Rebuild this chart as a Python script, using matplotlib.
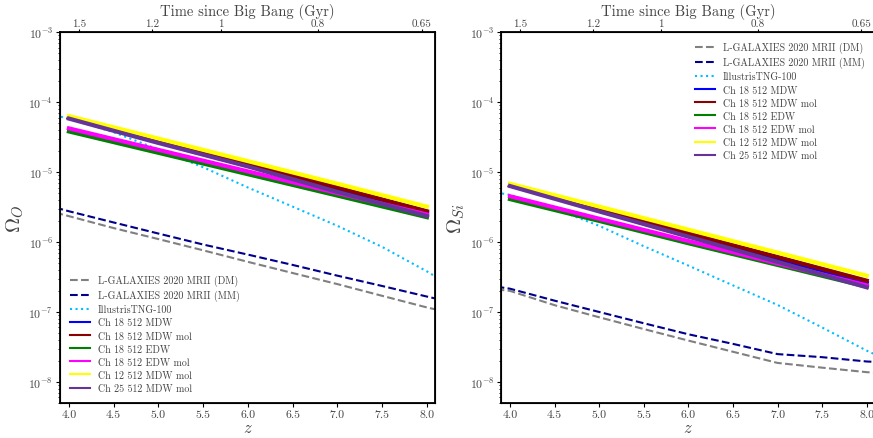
import numpy as np
import matplotlib
matplotlib.use('Agg')
import matplotlib.pyplot as plt

plt.rcParams['font.family'] = 'serif'
plt.rcParams['font.serif'] = ['cmr10']
plt.rcParams['mathtext.fontset'] = 'cm'
plt.rcParams['axes.formatter.use_mathtext'] = True
plt.rcParams['axes.unicode_minus'] = False
plt.rcParams['text.color'] = '#444444'
plt.rcParams['axes.labelcolor'] = '#444444'
plt.rcParams['xtick.labelcolor'] = '#444444'
plt.rcParams['ytick.labelcolor'] = '#444444'

# redshift grids
z_sim = [4.0, 5.0, 6.0, 7.0, 8.0]
z_lgal = [3.85, 4.0, 4.5, 5.0, 5.5, 6.0, 6.5, 7.0, 7.5, 8.0, 8.15]
z_tng = [3.85, 4.0, 4.5, 5.0, 5.5, 6.0, 6.5, 7.0, 7.5, 8.0, 8.15]

# top axis: time since big bang
age_labels = ['1.5', '1.2', '1', '0.8', '0.65']
age_z = [4.11, 4.93, 5.695, 6.78, 7.94]

# ---- Omega_O ----
O_lgal_dm = [2.63e-6, 2.34e-6, 1.58e-6, 1.1e-6, 7.6e-7, 5.2e-7, 3.6e-7, 2.5e-7, 1.7e-7, 1.16e-7, 1.05e-7]
O_lgal_mm = [3.1e-6, 2.75e-6, 1.9e-6, 1.32e-6, 9.2e-7, 6.6e-7, 4.7e-7, 3.3e-7, 2.35e-7, 1.66e-7, 1.5e-7]
O_tng = [6.4e-5, 5.8e-5, 3.7e-5, 2.1e-5, 1.17e-5, 6.0e-6, 3.2e-6, 1.7e-6, 8.5e-7, 3.8e-7, 2.9e-7]
O_sims = {
    'Ch 18 512 MDW':     [6.0e-5, 2.7e-5, 1.26e-5, 5.7e-6, 2.6e-6],
    'Ch 18 512 MDW mol': [6.0e-5, 2.8e-5, 1.29e-5, 6.0e-6, 2.75e-6],
    'Ch 18 512 EDW':     [3.8e-5, 1.88e-5, 9.3e-6, 4.6e-6, 2.26e-6],
    'Ch 18 512 EDW mol': [4.2e-5, 2.07e-5, 1.02e-5, 5.0e-6, 2.47e-6],
    'Ch 12 512 MDW mol': [6.3e-5, 3.0e-5, 1.43e-5, 6.8e-6, 3.2e-6],
    'Ch 25 512 MDW mol': [5.8e-5, 2.6e-5, 1.2e-5, 5.2e-6, 2.35e-6],
}

# ---- Omega_Si ----
Si_lgal_dm = [2.1e-7, 2.0e-7, 1.25e-7, 8.4e-8, 5.7e-8, 3.9e-8, 2.7e-8, 1.87e-8, 1.6e-8, 1.38e-8, 1.34e-8]
Si_lgal_mm = [2.3e-7, 2.15e-7, 1.45e-7, 1.0e-7, 6.9e-8, 4.8e-8, 3.5e-8, 2.5e-8, 2.26e-8, 1.96e-8, 1.92e-8]
Si_tng = [5.1e-6, 4.7e-6, 3.0e-6, 1.7e-6, 8.7e-7, 4.6e-7, 2.4e-7, 1.26e-7, 6.0e-8, 2.8e-8, 2.3e-8]
Si_sims = {
    'Ch 18 512 MDW':     [6.45e-6, 2.9e-6, 1.29e-6, 5.75e-7, 2.6e-7],
    'Ch 18 512 MDW mol': [6.45e-6, 2.9e-6, 1.33e-6, 6.1e-7, 2.8e-7],
    'Ch 18 512 EDW':     [4.1e-6, 2.0e-6, 9.6e-7, 4.7e-7, 2.3e-7],
    'Ch 18 512 EDW mol': [4.5e-6, 2.15e-6, 1.03e-6, 4.95e-7, 2.4e-7],
    'Ch 12 512 MDW mol': [6.8e-6, 3.2e-6, 1.5e-6, 7.05e-7, 3.3e-7],
    'Ch 25 512 MDW mol': [6.3e-6, 2.73e-6, 1.19e-6, 5.2e-7, 2.25e-7],
}

sim_colors = ['blue', 'darkred', 'green', 'magenta', 'yellow', 'rebeccapurple']

fig = plt.figure(figsize=(8.73, 4.39), dpi=100)
ax1 = fig.add_axes([0.0687, 0.0797, 0.4296, 0.845])
ax2 = fig.add_axes([0.574, 0.0797, 0.428, 0.845])

def draw(ax, dm, mm, tng, sims, ylab, xmax, legloc):
    ax.plot(z_lgal, dm, '--', color='grey', lw=1.5, label='L-GALAXIES 2020 MRII (DM)')
    ax.plot(z_lgal, mm, '--', color='darkblue', lw=1.5, label='L-GALAXIES 2020 MRII (MM)')
    ax.plot(z_tng, tng, ':', color='deepskyblue', lw=1.5, label='IllustrisTNG-100')
    for (name, vals), c in zip(sims.items(), sim_colors):
        ax.plot(z_sim, vals, '-', color=c, lw=3, label=name)
    ax.set_yscale('log')
    ax.set_ylim(5e-9, 1e-3)
    ax.set_xlim(3.9, xmax)
    ax.set_xticks(np.arange(4.0, 8.01, 0.5))
    ax.set_xticklabels(['%.1f' % t for t in np.arange(4.0, 8.01, 0.5)])
    ax.set_xlabel(r'$z$', fontsize=12, labelpad=0)
    ax.set_ylabel(ylab, fontsize=15, labelpad=2)
    ax.tick_params(which='major', labelsize=8.5, length=3, pad=2)
    ax.tick_params(which='minor', length=1.8)
    for s in ax.spines.values():
        s.set_linewidth(1.3)
    leg = ax.legend(loc=legloc, frameon=False, fontsize=7.2, labelspacing=0.36,
                    borderaxespad=0.6)
    for l in leg.get_lines():
        l.set_linewidth(1.5)
    top = ax.twiny()
    top.set_xlim(ax.get_xlim())
    top.set_xticks(age_z)
    top.set_xticklabels(age_labels)
    top.tick_params(labelsize=8, length=2, pad=1)
    top.set_xlabel('Time since Big Bang (Gyr)', fontsize=10.5, labelpad=2.5)

draw(ax1, O_lgal_dm, O_lgal_mm, O_tng, O_sims, r'$\Omega_O$', 8.09, 'lower left')
draw(ax2, Si_lgal_dm, Si_lgal_mm, Si_tng, Si_sims, r'$\Omega_{Si}$', 8.09, 'upper right')

fig.savefig('out.png', dpi=100)
